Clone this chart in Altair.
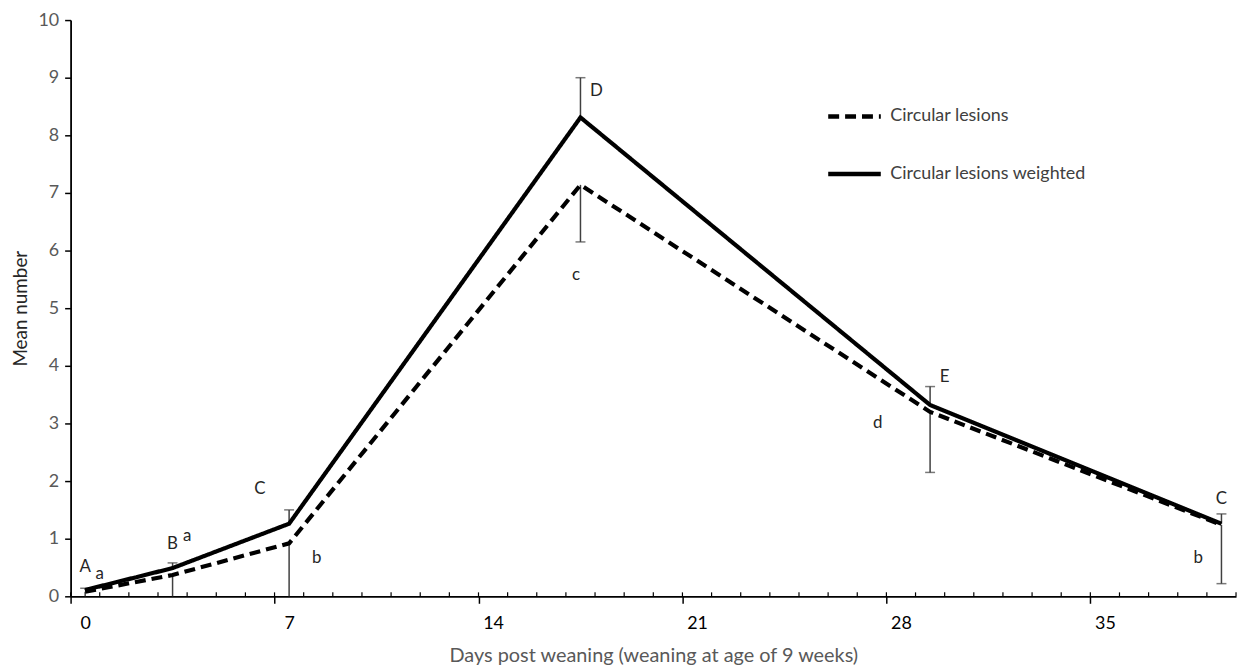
import altair as alt
import pandas as pd

days = [0, 3, 7, 17, 29, 39]
circular = [0.08, 0.37, 0.92, 7.14, 3.20, 1.24]
weighted = [0.11, 0.49, 1.26, 8.31, 3.32, 1.26]
series_names = ["Circular lesions", "Circular lesions weighted"]

# error bars: upper (weighted + err), lower (circular - err)
err_upper = [0.14, 0.58, 1.50, 9.00, 3.64, 1.43]
err_lower = [0.00, 0.00, 0.00, 6.15, 2.15, 0.22]

# letters
upper_letters = ["A", "B", "C", "D", "E", "C"]
upper_x = [0.0, 3.0, 6.0, 17.55, 29.5, 39.0]
upper_y = [0.50, 0.90, 1.86, 8.76, 3.80, 1.69]
lower_letters = ["a", "a", "b", "c", "d", "b"]
lower_x = [0.5, 3.5, 7.95, 16.85, 27.2, 38.2]
lower_y = [0.38, 1.04, 0.66, 5.57, 3.00, 0.66]

x_ticks = [0, 7, 14, 21, 28, 35]
n_days = 40

W, H = 1173, 580
FONT = "Lato"
GRAY = "#595959"

lines_df = pd.DataFrame(
    {"day": days * 2,
     "value": circular + weighted,
     "series": [series_names[0]] * len(days) + [series_names[1]] * len(days)}
)

rules = []
for d, c, w, hi, lo in zip(days, circular, weighted, err_upper, err_lower):
    rules.append({"day": d, "lo": w, "hi": hi})
    rules.append({"day": d, "lo": lo, "hi": c})
rules_df = pd.DataFrame(rules)

caps = []
for d, hi, lo in zip(days, err_upper, err_lower):
    caps.append({"day": d, "v": hi})
    if lo > 0:
        caps.append({"day": d, "v": lo})
caps_df = pd.DataFrame(caps)

letters_df = pd.DataFrame(
    {"x": upper_x + lower_x, "y": upper_y + lower_y,
     "t": upper_letters + lower_letters}
)

minor_df = pd.DataFrame({"b": [i - 0.5 for i in range(n_days + 1)]})

xscale = alt.Scale(domain=[-0.5, n_days - 0.5], nice=False, zero=False)
yscale = alt.Scale(domain=[0, 10], nice=False)

half_px = W / n_days / 2

xaxis = alt.Axis(
    values=[t - 0.5 for t in x_ticks],
    labelExpr="format(datum.value + 0.5, 'd')",
    labelOffset=half_px,
    tickSize=7, tickColor="black", tickWidth=1.5,
    domainColor="black", domainWidth=1.8,
    labelColor="black", labelFontSize=18, labelFont=FONT, labelPadding=11,
    labelFlush=False, labelOverlap=False,
    title="Days post weaning (weaning at age of 9 weeks)",
    titleFont=FONT, titleFontSize=20, titleFontWeight="normal",
    titleColor=GRAY, titlePadding=14, grid=False,
)
yaxis = alt.Axis(
    values=list(range(0, 11)), format="d",
    tickSize=6, tickColor="black", tickWidth=1.5,
    domainColor="black", domainWidth=1.8,
    labelColor=GRAY, labelFontSize=18, labelFont=FONT, labelPadding=6,
    labelFlush=False,
    title="Mean number", titleFont=FONT, titleFontSize=19,
    titleFontWeight="normal", titleColor="#262626", titlePadding=7, grid=False,
)

lines = alt.Chart(lines_df).mark_line(strokeWidth=4.2, color="black").encode(
    x=alt.X("day:Q", scale=xscale, axis=xaxis),
    y=alt.Y("value:Q", scale=yscale, axis=yaxis),
    strokeDash=alt.StrokeDash(
        "series:N",
        scale=alt.Scale(domain=series_names, range=[[11, 6], [1, 0]]),
        legend=alt.Legend(
            title=None, orient="none", legendX=760, legendY=68,
            symbolType="stroke", symbolSize=2800, symbolStrokeWidth=4.5,
            symbolStrokeColor="black",
            labelFont=FONT, labelFontSize=18, labelColor="#404040",
            labelLimit=0, rowPadding=20, labelOffset=7, padding=0,
        ),
    ),
)

err = alt.Chart(rules_df).mark_rule(color="#404040", strokeWidth=1.5).encode(
    x=alt.X("day:Q", scale=xscale), y=alt.Y("lo:Q", scale=yscale), y2="hi:Q"
)
cap = alt.Chart(caps_df).mark_tick(
    color="#404040", thickness=1.5, size=10, orient="horizontal"
).encode(x=alt.X("day:Q", scale=xscale), y=alt.Y("v:Q", scale=yscale))

minor = alt.Chart(minor_df).mark_rule(color="black", strokeWidth=1.2).encode(
    x=alt.X("b:Q", scale=xscale), y=alt.value(H - 4), y2=alt.value(H)
)

letters = alt.Chart(letters_df).mark_text(
    font=FONT, fontSize=17, color="#262626"
).encode(x=alt.X("x:Q", scale=xscale), y=alt.Y("y:Q", scale=yscale), text="t:N")

chart = alt.layer(minor, err, cap, lines, letters).properties(
    width=W, height=H,
    padding={"left": 63, "top": 10, "right": 4, "bottom": 70},
    autosize=alt.AutoSizeParams(type="none"),
).configure(background="white").configure_view(stroke=None)

chart.save("out.html", embed_options={"renderer": "svg", "actions": False})
